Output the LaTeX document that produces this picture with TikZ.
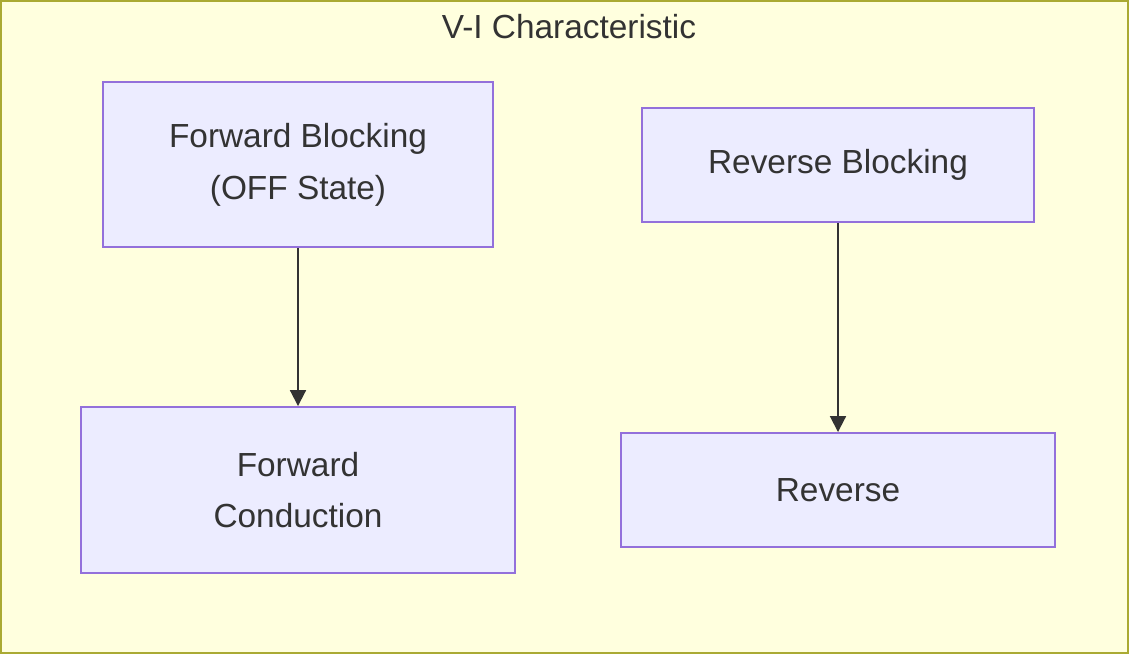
\documentclass[tikz,border=0pt]{standalone}
\usepackage{fontspec}
\setmainfont{Liberation Sans}
\usepackage{xcolor}
\usepackage{tikz}
\usetikzlibrary{shapes,backgrounds,calc,arrows.meta}

\definecolor{frameFill}{HTML}{FFFFDE}
\definecolor{frameLine}{HTML}{AAAA33}
\definecolor{stateFill}{HTML}{ECECFF}
\definecolor{stateLine}{HTML}{9370DB}
\definecolor{arrowLine}{HTML}{333333}

\begin{document}
\begin{tikzpicture}
        % Define the styles for the states and the transitions
        \tikzstyle{state}=[draw=stateLine, fill=stateFill, line width=1.1pt, inner sep=0pt, align=center, font=\fontsize{19}{29.5}\selectfont, text=arrowLine];
        \tikzstyle{transition}=[draw=arrowLine, line width=1.1pt, -{Triangle[length=9pt,width=9pt]}];

        % Fix the size of the picture
        \useasboundingbox (0,0) rectangle (22.58,-13.1);

        % Draw the surrounding group with its title
        \draw[fill=frameFill, draw=frameLine, line width=1.1pt] (0.02,-0.02) rectangle (22.56,-13.06);
        \node[font=\fontsize{19}{23}\selectfont, text=arrowLine] (title) at (11.38,-0.54) {V-I Characteristic};

        % Define the coordinates for the states
        \coordinate (FB) at (5.96,-3.29);
        \coordinate (FC) at (5.96,-9.8);
        \coordinate (RB) at (16.76,-3.3);
        \coordinate (R) at (16.76,-9.8);

        % Draw the states with labels
        \node[state, minimum width=7.8cm, minimum height=3.3cm] (fwdBlock) at (FB) {Forward Blocking\\(OFF State)};
        \node[state, minimum width=8.68cm, minimum height=3.32cm] (fwdCond) at (FC) {Forward\\Conduction};
        \node[state, minimum width=7.84cm, minimum height=2.28cm] (revBlock) at (RB) {Reverse Blocking};
        \node[state, minimum width=8.68cm, minimum height=2.28cm] (rev) at (R) {Reverse};

        % Connect the states
        \draw[transition] (fwdBlock) -- (fwdCond);
        \draw[transition] (revBlock) -- (rev);
    \end{tikzpicture}
\end{document}
